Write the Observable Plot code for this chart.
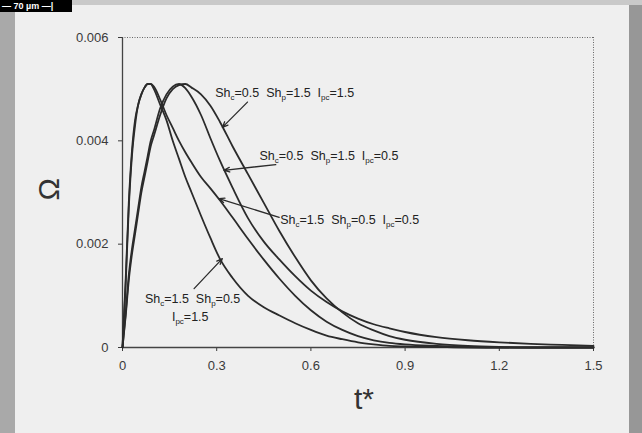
<!DOCTYPE html>
<html><head><meta charset="utf-8">
<script src="https://cdn.jsdelivr.net/npm/d3@7"></script>
<script src="https://cdn.jsdelivr.net/npm/@observablehq/plot@0.6"></script>
<style>
html,body{margin:0;padding:0;}
body{width:642px;height:433px;position:relative;overflow:hidden;background:#efefef;font-family:"Liberation Sans",Arial,sans-serif;}
#chart{position:absolute;left:0;top:0;}
#leftbar{position:absolute;left:0;top:12px;width:15px;height:421px;background:#a9a9a9;}
#rightbar{position:absolute;right:0;top:0;width:13px;height:433px;background:#979797;}
#topbar{position:absolute;left:72px;top:0;width:570px;height:5px;background:#c9c9c9;}
#scale{position:absolute;left:0;top:0;width:72px;height:12px;background:#000;color:#fff;font:bold 9px/12px "Liberation Sans",Arial,sans-serif;white-space:pre;padding-left:2px;box-sizing:border-box;}
</style>
</head><body>
<div id="leftbar"></div><div id="rightbar"></div><div id="topbar"></div>
<div id="scale">— 70 µm —|</div>
<div id="chart"></div>
<script>
// ---- data ----
const T = [0, 0.01, 0.02, 0.03, 0.04, 0.05, 0.06, 0.07, 0.08, 0.09, 0.10, 0.12, 0.14, 0.16, 0.18, 0.20, 0.22, 0.25, 0.28, 0.31, 0.35, 0.40, 0.45, 0.50, 0.55, 0.60, 0.65, 0.70, 0.75, 0.80, 0.85, 0.90, 1.0, 1.1, 1.2, 1.3, 1.4, 1.5];
// Sh_c=0.5 Sh_p=1.5 I_pc=1.5
const OMEGA_A = [0, 0.0006, 0.0013, 0.0018, 0.0022, 0.0026, 0.0030, 0.0033, 0.0036, 0.0039, 0.0041, 0.0045, 0.00482, 0.0050, 0.00508, 0.0051, 0.00503, 0.0049, 0.00468, 0.00437, 0.0039, 0.00335, 0.0028, 0.00225, 0.00175, 0.0013, 0.00095, 0.00068, 0.00047, 0.00033, 0.00022, 0.00015, 0.00007, 0.00003, 0.00001, 0, 0, 0];
// Sh_c=0.5 Sh_p=1.5 I_pc=0.5
const OMEGA_B = [0, 0.00065, 0.0014, 0.0019, 0.0023, 0.0027, 0.0031, 0.0034, 0.0037, 0.0040, 0.0042, 0.00463, 0.0049, 0.00505, 0.0051, 0.00502, 0.00485, 0.0045, 0.00405, 0.00362, 0.0031, 0.0025, 0.00205, 0.0017, 0.00138, 0.0011, 0.00088, 0.0007, 0.00056, 0.00045, 0.00037, 0.0003, 0.0002, 0.00014, 0.0001, 0.00007, 0.00005, 0.00003];
// Sh_c=1.5 Sh_p=0.5 I_pc=0.5
const OMEGA_C = [0, 0.0013, 0.0028, 0.0038, 0.0044, 0.0047, 0.0049, 0.00503, 0.0051, 0.0051, 0.00505, 0.0048, 0.0045, 0.00425, 0.0040, 0.00378, 0.00358, 0.0033, 0.00308, 0.00285, 0.00252, 0.0021, 0.0017, 0.00133, 0.0010, 0.00072, 0.0005, 0.00034, 0.00022, 0.00014, 0.00009, 0.00006, 0.00003, 0.00001, 0, 0, 0, 0];
// Sh_c=1.5 Sh_p=0.5 I_pc=1.5
const OMEGA_D = [0, 0.0012, 0.0027, 0.0037, 0.0043, 0.0047, 0.0049, 0.00503, 0.0051, 0.0051, 0.0050, 0.0047, 0.0044, 0.0040, 0.00365, 0.0033, 0.0030, 0.00255, 0.00212, 0.00172, 0.00135, 0.0010, 0.00078, 0.00062, 0.00047, 0.00034, 0.00023, 0.00016, 0.0001, 0.00006, 0.00003, 0.00002, 0.00001, 0, 0, 0, 0, 0];
const SERIES_NAMES = ["A", "B", "C", "D"];
const SERIES_VALUES = [OMEGA_A, OMEGA_B, OMEGA_C, OMEGA_D];

const X_TICKS = [0, 0.3, 0.6, 0.9, 1.2, 1.5];
const Y_TICKS = [0, 0.002, 0.004, 0.006];
const X_LABEL = "t*";
const Y_LABEL = "Ω";

// annotation labels (text anchored at data coordinates), "_{..}" = subscript
const LABEL_TEXT = ["Sh_{c}=0.5  Sh_{p}=1.5  I_{pc}=1.5", "Sh_{c}=0.5  Sh_{p}=1.5  I_{pc}=0.5", "Sh_{c}=1.5  Sh_{p}=0.5  I_{pc}=0.5", "Sh_{c}=1.5  Sh_{p}=0.5", "I_{pc}=1.5"];
const LABEL_T = [0.297, 0.438, 0.504, 0.073, 0.159];
const LABEL_V = [0.00484, 0.00362, 0.00238, 0.00085, 0.00051];
// arrows: from label to curve
const ARROW_T1 = [0.398, 0.488, 0.499, 0.228];
const ARROW_V1 = [0.00475, 0.00354, 0.00252, 0.00114];
const ARROW_T2 = [0.318, 0.323, 0.307, 0.318];
const ARROW_V2 = [0.00426, 0.00343, 0.00288, 0.00172];

// ---- build table ----
const rows = [];
SERIES_VALUES.forEach((vals, s) => vals.forEach((v, i) => rows.push({series: SERIES_NAMES[s], t: T[i], v})));
const arrows = ARROW_T1.map((_, i) => ({x1: ARROW_T1[i], y1: ARROW_V1[i], x2: ARROW_T2[i], y2: ARROW_V2[i]}));

const ink = "#2b2b2b";
const plot = Plot.plot({
  width: 642, height: 433,
  marginLeft: 122, marginRight: 49, marginTop: 37, marginBottom: 86,
  style: {background: "transparent", fontFamily: "Liberation Sans, Arial, sans-serif", fontSize: "13px", color: "#3a3a3a", overflow: "visible"},
  x: {domain: [0, 1.5], ticks: X_TICKS, tickFormat: d => d === 0 ? "0" : String(d), tickSize: 4, tickPadding: 9, label: null},
  y: {domain: [0, 0.006], ticks: Y_TICKS, tickFormat: d => d === 0 ? "0" : d.toFixed(3), tickSize: 4, tickPadding: 10, label: null},
  marks: [
    Plot.ruleY([0.006], {stroke: "#666", strokeWidth: 1, strokeDasharray: "1,1.5"}),
    Plot.ruleX([1.5], {stroke: "#666", strokeWidth: 1, strokeDasharray: "1,1.5"}),
    Plot.ruleX([0], {stroke: "#444", strokeWidth: 1.3}),
    Plot.ruleY([0], {stroke: "#444", strokeWidth: 1.3}),
    Plot.line(rows, {x: "t", y: "v", z: "series", curve: "monotone-x", stroke: ink, strokeWidth: 1.8}),
    Plot.arrow(arrows, {x1: "x1", y1: "y1", x2: "x2", y2: "y2", stroke: ink, strokeWidth: 1.3, headLength: 7, headAngle: 45}),
    Plot.text([Y_LABEL], {text: d => d, frameAnchor: "left", dx: -73, dy: 8, rotate: -90, fontSize: 30, fill: "#333"}),
    Plot.text([X_LABEL], {text: d => d, frameAnchor: "bottom", dx: 6, dy: 61, fontSize: 30, fill: "#333"})
  ]
});
document.getElementById("chart").appendChild(plot);

// ---- annotation labels with subscripts, positioned through the plot's scales ----
const sx = plot.scale("x"), sy = plot.scale("y");
const g = d3.select(plot).append("g")
  .attr("font-family", "Liberation Sans, Arial, sans-serif")
  .attr("text-anchor", "start")
  .attr("font-size", 12.5).attr("fill", "#222");
LABEL_TEXT.forEach((str, i) => {
  const t = g.append("text").attr("text-anchor", "start")
    .attr("x", sx.apply(LABEL_T[i])).attr("y", sy.apply(LABEL_V[i])).style("white-space", "pre");
  const parts = str.split(/_\{([^}]*)\}/);
  let shifted = false;
  parts.forEach((p, k) => {
    if (!p) return;
    const sub = k % 2 === 1;
    const ts = t.append("tspan").text(p);
    if (sub) { ts.attr("font-size", 8).attr("dy", shifted ? 0 : 3); shifted = true; }
    else { if (shifted) ts.attr("dy", -3); shifted = false; }
  });
});
</script>
</body></html>
